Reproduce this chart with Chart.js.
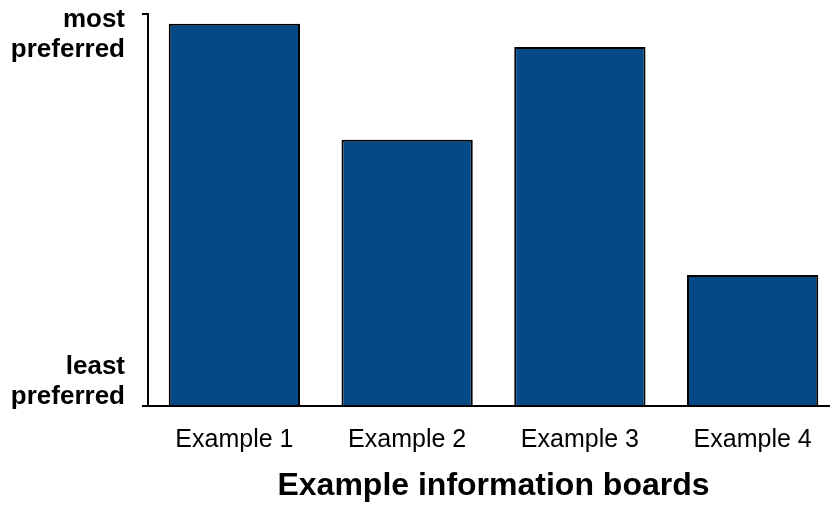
<!DOCTYPE html>
<html>
<head>
<meta charset="utf-8">
<script src="https://cdn.jsdelivr.net/npm/chart.js@4"></script>
<style>
  html, body { margin: 0; padding: 0; background: #fff; overflow: hidden; }
  canvas { display: block; }
</style>
</head>
<body>
<canvas id="BarChart" width="840" height="505"></canvas>
<script>
const categories = ['Example 1', 'Example 2', 'Example 3', 'Example 4'];
const preference = [97.5, 67.9, 91.6, 33.4];
const yTickValues = [0, 100];
const yTickLabels = [['least', 'preferred'], ['most', 'preferred']];
const xTitle = 'Example information boards';

// two-line labels hang below the top tick and sit above the bottom one
const yLabelPlugin = {
    id: 'yLabels',
    afterDraw(chart) {
        const ctx = chart.ctx;
        const y = chart.scales.y;
        ctx.save();
        ctx.font = 'bold 26px "Liberation Sans", Arial, sans-serif';
        ctx.fillStyle = '#000';
        ctx.textAlign = 'right';
        ctx.textBaseline = 'alphabetic';
        yTickValues.forEach(function (v, i) {
            const py = y.getPixelForValue(v);
            const lines = yTickLabels[i];
            const first = v === y.max ? py + 13 : py - 2 - (lines.length - 1) * 30;
            lines.forEach(function (t, j) {
                ctx.fillText(t, y.left + 125, first + j * 30);
            });
        });
        ctx.restore();
    }
};

const ctx = document.getElementById('BarChart').getContext('2d');
new Chart(ctx, {
    type: 'bar',
    data: {
        labels: categories,
        datasets: [{
            data: preference,
            backgroundColor: '#054a87',
            borderColor: '#000',
            borderWidth: 2,
            barPercentage: 0.76,
            categoryPercentage: 1
        }]
    },
    options: {
        responsive: false,
        animation: false,
        devicePixelRatio: 1,
        layout: { padding: { top: 14, right: 1, left: 0, bottom: 0 } },
        plugins: {
            legend: { display: false },
            tooltip: { enabled: false }
        },
        scales: {
            x: {
                afterFit: function (s) { s.height = 99; },
                grid: { display: false },
                border: { display: true, color: '#000', width: 2 },
                ticks: {
                    color: '#000',
                    padding: 11,
                    font: { family: '"Liberation Sans", Arial, sans-serif', size: 25 }
                },
                title: {
                    display: true,
                    text: xTitle,
                    color: '#000',
                    padding: { top: 0, bottom: 0 },
                    font: { family: '"Liberation Sans", Arial, sans-serif', size: 32, weight: 'bold' }
                }
            },
            y: {
                min: 0,
                max: 100,
                afterFit: function (s) { s.width = 148; },
                grid: {
                    drawOnChartArea: false,
                    drawTicks: true,
                    tickLength: 6,
                    color: '#000',
                    lineWidth: 2
                },
                border: { display: true, color: '#000', width: 2 },
                ticks: {
                    stepSize: 100,
                    callback: function () { return ''; }
                }
            }
        }
    },
    plugins: [yLabelPlugin]
});
</script>
</body>
</html>
